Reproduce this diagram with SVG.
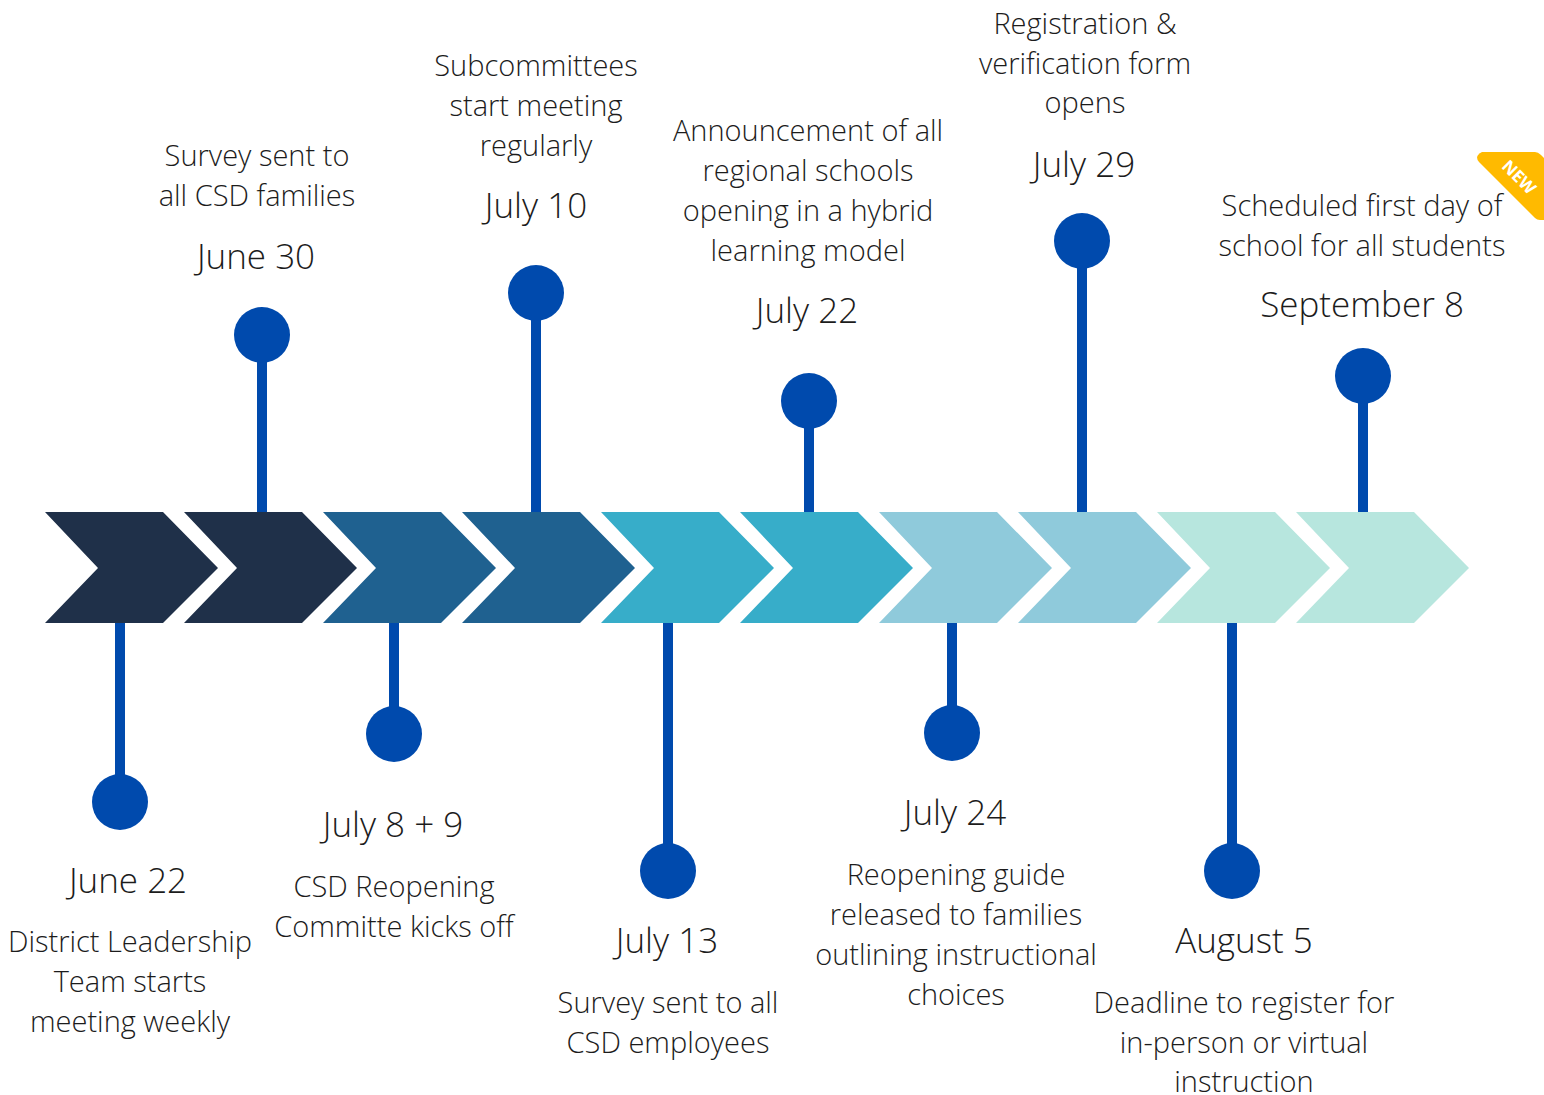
<svg xmlns="http://www.w3.org/2000/svg" width="1544" height="1095" viewBox="0 0 1544 1095">
<style>
.t{font-family:"Open Sans","Liberation Sans",sans-serif;font-weight:300;font-size:29px;fill:#1c1c1c;text-anchor:middle}
.d{font-family:"Open Sans","Liberation Sans",sans-serif;font-weight:300;font-size:35px;fill:#1c1c1c;text-anchor:middle}
.stem{stroke:#004AAD;stroke-width:10;fill:none}
.dot{fill:#004AAD}
</style>
<defs>
<polygon id="chev" points="0,0 118,0 173,56 118,111 0,111 53,56"/>
</defs>
<rect width="1544" height="1095" fill="#ffffff"/>
<g id="connectors">
<line class="stem" x1="120" y1="620" x2="120" y2="802"/>
<line class="stem" x1="262" y1="335" x2="262" y2="515"/>
<line class="stem" x1="394" y1="620" x2="394" y2="734"/>
<line class="stem" x1="536" y1="293" x2="536" y2="515"/>
<line class="stem" x1="668" y1="620" x2="668" y2="871"/>
<line class="stem" x1="809" y1="401" x2="809" y2="515"/>
<line class="stem" x1="952" y1="620" x2="952" y2="733"/>
<line class="stem" x1="1082" y1="241" x2="1082" y2="515"/>
<line class="stem" x1="1232" y1="620" x2="1232" y2="871"/>
<line class="stem" x1="1363" y1="376" x2="1363" y2="515"/>
</g>
<g id="timeline">
<use href="#chev" x="45" y="512" fill="#1F3049"/>
<use href="#chev" x="184" y="512" fill="#1F3049"/>
<use href="#chev" x="323" y="512" fill="#1F6190"/>
<use href="#chev" x="462" y="512" fill="#1F6190"/>
<use href="#chev" x="601" y="512" fill="#37ADC9"/>
<use href="#chev" x="740" y="512" fill="#37ADC9"/>
<use href="#chev" x="879" y="512" fill="#8FCADB"/>
<use href="#chev" x="1018" y="512" fill="#8FCADB"/>
<use href="#chev" x="1157" y="512" fill="#B7E6DE"/>
<use href="#chev" x="1296" y="512" fill="#B7E6DE"/>
</g>
<g id="june22">
<circle class="dot" cx="120" cy="802" r="28"/>
<text class="d" x="128" y="893">June 22</text>
<text class="t" x="130" y="952">District Leadership</text>
<text class="t" x="130" y="992">Team starts</text>
<text class="t" x="130" y="1032">meeting weekly</text>
</g>
<g id="june30">
<circle class="dot" cx="262" cy="335" r="28"/>
<text class="t" x="257" y="166">Survey sent to</text>
<text class="t" x="257" y="206">all CSD families</text>
<text class="d" x="256" y="269">June 30</text>
</g>
<g id="july8">
<circle class="dot" cx="394" cy="734" r="28"/>
<text class="d" x="393" y="837">July 8 + 9</text>
<text class="t" x="394" y="897">CSD Reopening</text>
<text class="t" x="394" y="937">Committe kicks off</text>
</g>
<g id="july10">
<circle class="dot" cx="536" cy="293" r="28"/>
<text class="t" x="536" y="76">Subcommittees</text>
<text class="t" x="536" y="116">start meeting</text>
<text class="t" x="536" y="156">regularly</text>
<text class="d" x="536" y="218">July 10</text>
</g>
<g id="july13">
<circle class="dot" cx="668" cy="871" r="28"/>
<text class="d" x="667" y="953">July 13</text>
<text class="t" x="668" y="1013">Survey sent to all</text>
<text class="t" x="668" y="1053">CSD employees</text>
</g>
<g id="july22">
<circle class="dot" cx="809" cy="401" r="28"/>
<text class="t" x="808" y="141">Announcement of all</text>
<text class="t" x="808" y="181">regional schools</text>
<text class="t" x="808" y="221">opening in a hybrid</text>
<text class="t" x="808" y="261">learning model</text>
<text class="d" x="807" y="323">July 22</text>
</g>
<g id="july24">
<circle class="dot" cx="952" cy="733" r="28"/>
<text class="d" x="955" y="825">July 24</text>
<text class="t" x="956" y="885">Reopening guide</text>
<text class="t" x="956" y="925">released to families</text>
<text class="t" x="956" y="965">outlining instructional</text>
<text class="t" x="956" y="1005">choices</text>
</g>
<g id="july29">
<circle class="dot" cx="1082" cy="241" r="28"/>
<text class="t" x="1085" y="34">Registration &amp;</text>
<text class="t" x="1085" y="74">verification form</text>
<text class="t" x="1085" y="113">opens</text>
<text class="d" x="1084" y="177">July 29</text>
</g>
<g id="august5">
<circle class="dot" cx="1232" cy="871" r="28"/>
<text class="d" x="1244" y="953">August 5</text>
<text class="t" x="1244" y="1013">Deadline to register for</text>
<text class="t" x="1244" y="1053">in-person or virtual</text>
<text class="t" x="1244" y="1092">instruction</text>
</g>
<g id="september8">
<circle class="dot" cx="1363" cy="376" r="28"/>
<text class="t" x="1362" y="216">Scheduled first day of</text>
<text class="t" x="1362" y="256">school for all students</text>
<text class="d" x="1362" y="317">September 8</text>
</g>
<g id="new-badge">
<path d="M1482,152 L1535,152 Q1538,152 1541,155 L1544,158 L1544,220 L1540,220 Q1537,220 1535,218 L1479,162 Q1474,156 1482,152 Z" fill="#FFBA00"/>
<text x="1519" y="183" transform="rotate(45 1519 177)" font-family="'Open Sans','Liberation Sans',sans-serif" font-weight="700" font-size="17" fill="#ffffff" text-anchor="middle">NEW</text>
</g>
</svg>
